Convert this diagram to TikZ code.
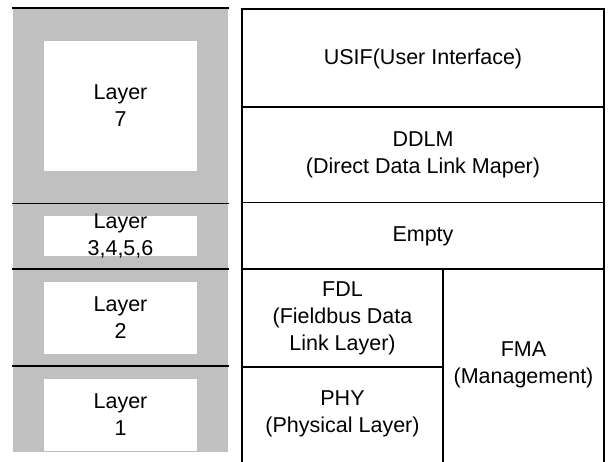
\documentclass[tikz,border=0pt]{standalone}
\usepackage{fontspec}
\setmainfont{Liberation Sans}
\definecolor{layergray}{HTML}{C0C0C0}
\begin{document}
\begin{tikzpicture}[x=1pt,y=1pt,
  lbl/.style={align=center, font=\fontsize{21.5}{27}\selectfont, inner sep=0pt},
  osibox/.style={fill=white, draw=none, minimum width=153pt, inner sep=0pt},
  rule/.style={line width=1.6pt, line cap=rect}]
\useasboundingbox (0,0) rectangle (608,461);

% OSI layer column
\fill[layergray] (13,9) rectangle (228,453);
\draw[rule] (13,453) -- (228,453);
\draw[rule] (13,257.5) -- (228,257.5);
\draw[rule] (13,192) -- (228,192);
\draw[rule] (13,95) -- (228,95);

\node[osibox, minimum height=130pt] (l7box) at (120.5,355) {};
\node[osibox, minimum height=40pt]  (l36box) at (120.5,225) {};
\node[osibox, minimum height=72pt]  (l2box) at (120.5,143) {};
\node[osibox, minimum height=72pt]  (l1box) at (120.5,46) {};

\node[lbl] (l7) at (l7box.center) {Layer\\7};
\node[lbl] (l36) at (l36box.center) {Layer\\3,4,5,6};
\node[lbl] (l2) at (l2box.center) {Layer\\2};
\node[lbl] (l1) at (l1box.center) {Layer\\1};

% Fieldbus stack
\draw[rule] (242,0) -- (242,452) -- (604,452) -- (604,0);
\draw[rule] (242,354) -- (604,354);
\draw[rule] (242,258.5) -- (604,258.5);
\draw[rule] (242,192) -- (604,192);
\draw[rule] (242,94) -- (443,94);
\draw[rule] (443,192) -- (443,0);

\node[lbl] (usif) at (423,402) {USIF(User Interface)};
\node[lbl] (ddlm) at (423,306) {DDLM\\(Direct Data Link Maper)};
\node[lbl] (empty) at (423,225) {Empty};
\node[lbl] (fdl) at (342.5,143) {FDL\\(Fieldbus Data\\Link Layer)};
\node[lbl] (phy) at (342.5,47) {PHY\\(Physical Layer)};
\node[lbl] (fma) at (523.5,96) {FMA\\(Management)};
\end{tikzpicture}
\end{document}
